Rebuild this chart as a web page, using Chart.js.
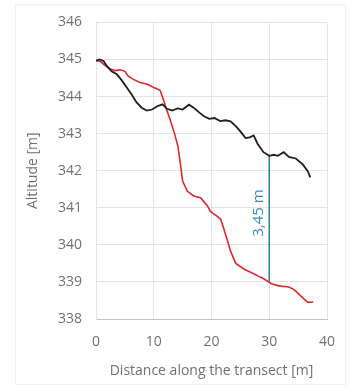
<!DOCTYPE html>
<html>
<head>
<meta charset="utf-8">
<script src="https://cdn.jsdelivr.net/npm/chart.js@4.4.1/dist/chart.umd.min.js"></script>
<style>
html,body{margin:0;padding:0;background:#fff;}
#wrap{width:355px;height:389px;position:relative;}
</style>
</head>
<body>
<div id="wrap"><canvas id="c" width="355" height="389"></canvas></div>
<script>
// Data
const blackX = [0,0.6,1.3,2.0,2.7,3.6,4.4,5.3,6.2,7.0,7.9,8.8,9.7,10.6,11.5,12.3,13.2,14.1,15.0,16.1,16.9,17.8,18.7,19.6,20.5,21.5,22.4,23.3,24.2,25.0,25.9,26.6,27.3,28.0,29.0,30.0,30.8,31.5,32.5,33.4,34.6,35.8,36.7,37.1];
const blackY = [344.97,345.0,344.96,344.8,344.68,344.6,344.45,344.25,344.05,343.85,343.7,343.62,343.65,343.74,343.79,343.67,343.62,343.68,343.65,343.78,343.7,343.58,343.47,343.4,343.42,343.34,343.36,343.33,343.2,343.06,342.88,342.9,342.95,342.72,342.5,342.4,342.43,342.4,342.5,342.37,342.33,342.17,341.98,341.82];
const redX = [0,0.7,1.5,2.4,3.3,4.2,5.0,5.6,6.4,7.6,8.9,9.9,11.1,11.7,12.3,13.0,13.6,14.2,14.6,15.0,15.8,16.9,18.1,18.6,19.3,19.8,21.0,21.6,22.2,22.8,23.3,24.2,25.6,27.3,28.2,28.9,30.0,30.3,31.5,32.3,33.2,34.0,34.6,35.8,36.7,37.6];
const redY = [344.97,344.95,344.85,344.75,344.7,344.72,344.68,344.55,344.47,344.38,344.33,344.25,344.17,343.9,343.62,343.3,343.0,342.65,342.2,341.72,341.45,341.32,341.27,341.18,341.05,340.9,340.77,340.69,340.4,340.1,339.83,339.5,339.35,339.22,339.15,339.1,338.99,338.96,338.9,338.88,338.87,338.82,338.75,338.57,338.45,338.46];
const measureX = [30, 30];
const measureY = [338.99, 342.4];
const measureLabel = "3,45 m";
const xTicks = [0,10,20,30,40];
const yTicks = [338,339,340,341,342,343,344,345,346];
const xTitle = "Distance along the transect [m]";
const yTitle = "Altitude [m]";

const toPts = (xs, ys) => xs.map((x, i) => ({x: x, y: ys[i]}));
const textColor = '#707070';
const fontFam = "'Open Sans', 'Liberation Sans', sans-serif";

const labelPlugin = {
  id: 'measureLabel',
  afterDatasetsDraw(chart) {
    const {ctx, scales} = chart;
    const px = scales.x.getPixelForValue(measureX[0]);
    const py = scales.y.getPixelForValue((measureY[0] + measureY[1]) / 2);
    ctx.save();
    ctx.translate(px - 11, py - 6);
    ctx.rotate(-Math.PI / 2);
    ctx.fillStyle = '#3a8dba';
    ctx.font = "15px " + fontFam;
    ctx.textAlign = 'center';
    ctx.textBaseline = 'middle';
    ctx.fillText(measureLabel, 0, 0);
    ctx.restore();
  }
};
const framePlugin = {
  id: 'frame',
  beforeDraw(chart) {
    const ctx = chart.ctx;
    ctx.save();
    ctx.fillStyle = '#fff';
    ctx.fillRect(0, 0, chart.width, chart.height);
    ctx.strokeStyle = '#f0f0f0';
    ctx.lineWidth = 1;
    ctx.strokeRect(15.5, 4.5, 330, 380);
    ctx.restore();
  }
};

new Chart(document.getElementById('c'), {
  type: 'scatter',
  data: {
    datasets: [
      {data: toPts(blackX, blackY), showLine: true, borderColor: '#1e1e1e', borderWidth: 1.8, pointRadius: 0, tension: 0},
      {data: toPts(redX, redY), showLine: true, borderColor: '#e0282c', borderWidth: 1.6, pointRadius: 0, tension: 0},
      {data: toPts(measureX, measureY), showLine: true, borderColor: '#2a7fa6', borderWidth: 1.5, pointRadius: 0, tension: 0}
    ]
  },
  options: {
    responsive: false,
    animation: false,
    events: [],
    layout: {padding: {left: 25, right: 28, top: 21, bottom: 10}},
    plugins: {legend: {display: false}, tooltip: {enabled: false}},
    scales: {
      x: {
        type: 'linear', min: 0, max: 40,
        afterBuildTicks: (s) => { s.ticks = xTicks.map(v => ({value: v})); },
        afterFit: (s) => { s.height = 60; },
        grid: {color: '#e4e4e4', drawTicks: false},
        border: {color: '#c4c4c4', width: 1},
        ticks: {color: textColor, font: {size: 14, family: fontFam}, padding: 15, maxRotation: 0},
        title: {display: true, text: xTitle, color: textColor, font: {size: 14, family: fontFam}, padding: {top: 0, bottom: 0}}
      },
      y: {
        type: 'linear', min: 338, max: 346,
        afterBuildTicks: (s) => { s.ticks = yTicks.map(v => ({value: v})); },
        afterFit: (s) => { s.width = 71; },
        grid: {color: '#e4e4e4', drawTicks: false},
        border: {color: '#e4e4e4', width: 1},
        ticks: {color: textColor, font: {size: 14, family: fontFam}, padding: 14},
        title: {display: true, text: yTitle, color: textColor, font: {size: 14, family: fontFam}, padding: {top: 0, bottom: 0}}
      }
    }
  }
  ,plugins: [framePlugin, labelPlugin]
});
</script>
</body>
</html>
